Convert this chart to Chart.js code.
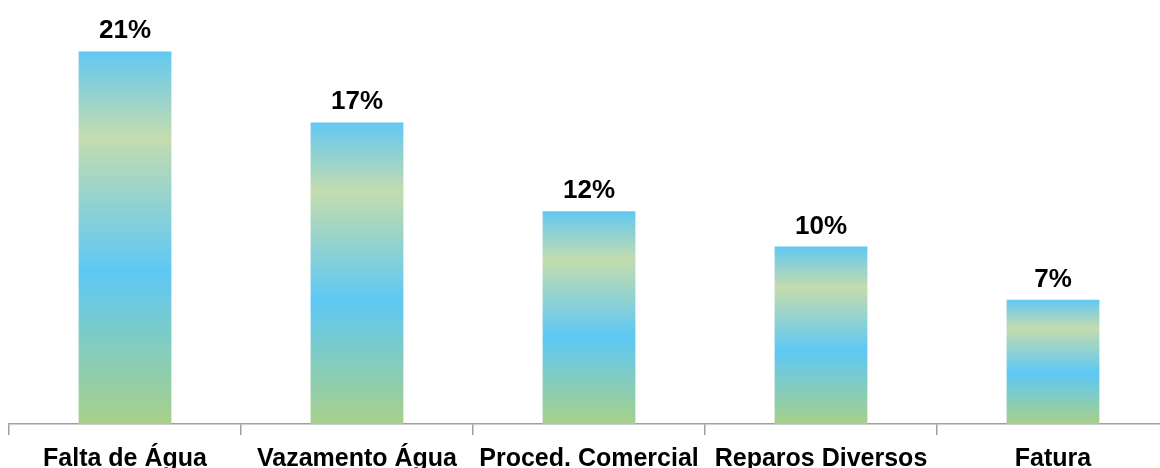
<!DOCTYPE html>
<html>
<head>
<meta charset="utf-8">
<script src="https://cdn.jsdelivr.net/npm/chart.js@4/dist/chart.umd.min.js"></script>
<style>
  html,body{margin:0;padding:0;background:#fff;overflow:hidden;width:1160px;height:468px}
  #chart{display:block}
</style>
</head>
<body>
<canvas id="chart" width="1175" height="483"></canvas>
<script>
// ── Data ──
var categories=['Falta de Água','Vazamento Água','Proced. Comercial','Reparos Diversos','Fatura'];
var percents=[21,17,12,10,7];

var FONT='"Liberation Sans", Arial, sans-serif';

// gradient per bar, top to bottom: blue, pale yellow-green, blue, green
function barGradient(ctx){
  var chart=ctx.chart;
  if(!chart.chartArea||ctx.raw==null)return '#62c8f0';
  var ys=chart.scales.y;
  var top=ys.getPixelForValue(ctx.raw), bot=ys.getPixelForValue(0);
  var g=chart.ctx.createLinearGradient(0,top,0,bot);
  g.addColorStop(0,'#62c8f2');
  g.addColorStop(0.23,'#c4dcae');
  g.addColorStop(0.59,'#5ec8f4');
  g.addColorStop(1,'#a8d08a');
  return g;
}

// ── Value labels above bars ──
var valueLabels={
  id:'valueLabels',
  afterDatasetsDraw:function(chart){
    var c=chart.ctx;
    var meta=chart.getDatasetMeta(0);
    c.save();
    c.font='bold 26px '+FONT;
    c.fillStyle='#000';
    c.textAlign='center';
    c.textBaseline='alphabetic';
    meta.data.forEach(function(bar,i){
      c.fillText(percents[i]+'%',bar.x,bar.y-13);
    });
    c.restore();
  }
};

new Chart(document.getElementById('chart'),{
  type:'bar',
  data:{
    labels:categories,
    datasets:[{data:percents,backgroundColor:barGradient,borderWidth:0,categoryPercentage:1,barPercentage:0.4}]
  },
  options:{
    responsive:false,animation:false,
    layout:{padding:{left:9,right:6,top:16,bottom:0}},
    plugins:{legend:{display:false},tooltip:{enabled:false}},
    scales:{
      y:{display:false,min:0,max:23},
      x:{
        grid:{offset:true,drawOnChartArea:false,drawTicks:true,tickLength:11,color:'#a0a0a0',lineWidth:1.5},
        border:{display:true,color:'#a0a0a0',width:1.5},
        ticks:{color:'#000',padding:9,maxRotation:0,autoSkip:false,font:{family:FONT,size:25,weight:'bold',lineHeight:1.2}}
      }
    }
  },
  plugins:[valueLabels]
});
</script>
</body>
</html>
